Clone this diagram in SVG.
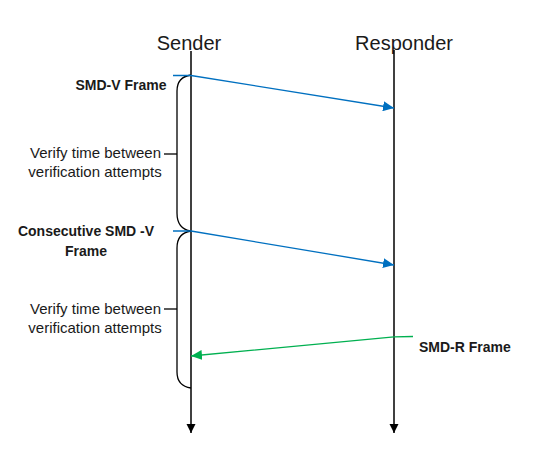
<svg xmlns="http://www.w3.org/2000/svg" width="550" height="453" viewBox="0 0 550 453">
<style>
  .title{font-family:"Liberation Sans",Arial,sans-serif;font-size:20px;fill:#1a1a1a}
  .lbl{font-family:"Liberation Sans",Arial,sans-serif;font-size:14px;font-weight:bold;fill:#1a1a1a}
  .note{font-family:"Liberation Sans",Arial,sans-serif;font-size:15px;fill:#1a1a1a}
  .life{stroke:#000;stroke-width:1.5;fill:none}
  .brace{stroke:#000;stroke-width:1.3;fill:none}
  .blue{stroke:#0070C0;stroke-width:1.3;fill:none}
  .green{stroke:#00B050;stroke-width:1.3;fill:none}
</style>
<defs>
  <marker id="ab" markerUnits="userSpaceOnUse" markerWidth="12" markerHeight="10" refX="11" refY="5" orient="auto"><path d="M0,0 L11,5 L0,10 Z" fill="#0070C0"/></marker>
  <marker id="ag" markerUnits="userSpaceOnUse" markerWidth="12" markerHeight="10" refX="11" refY="5" orient="auto"><path d="M0,0 L11,5 L0,10 Z" fill="#00B050"/></marker>
  <marker id="ak" markerUnits="userSpaceOnUse" markerWidth="10" markerHeight="10" refX="9" refY="4.5" orient="auto"><path d="M0,0 L9,4.5 L0,9 Z" fill="#000"/></marker>
</defs>
<rect width="550" height="453" fill="#fff"/>
<g id="sender">
  <text class="title" x="189" y="50" text-anchor="middle">Sender</text>
  <line class="life" x1="191" y1="51" x2="191" y2="433" marker-end="url(#ak)"/>
</g>
<g id="responder">
  <text class="title" x="404" y="50" text-anchor="middle">Responder</text>
  <line class="life" x1="394" y1="50" x2="394" y2="433" marker-end="url(#ak)"/>
</g>
<g id="brace1">
  <path class="brace" d="M191,75 Q177,77 177,91 L177,213 Q177,229 191,231"/>
  <line class="brace" x1="164" y1="154" x2="177" y2="154"/>
  <text class="note" x="161" y="158" text-anchor="end">Verify time between</text>
  <text class="note" x="95" y="177" text-anchor="middle">verification attempts</text>
</g>
<g id="brace2">
  <path class="brace" d="M191,231 Q177,233 177,248 L177,372 Q177,386 191,388"/>
  <line class="brace" x1="164" y1="309" x2="177" y2="309"/>
  <text class="note" x="161" y="314" text-anchor="end">Verify time between</text>
  <text class="note" x="95" y="333" text-anchor="middle">verification attempts</text>
</g>
<g id="labels">
  <text class="lbl" x="121" y="90" text-anchor="middle">SMD-V Frame</text>
  <text class="lbl" x="86" y="236" text-anchor="middle">Consecutive SMD -V</text>
  <text class="lbl" x="86" y="256" text-anchor="middle">Frame</text>
  <text class="lbl" x="419" y="352">SMD-R Frame</text>
</g>
<g id="connectors">
  <path class="blue" d="M173,75.5 L191,75.5 L394,108" marker-end="url(#ab)"/>
  <path class="blue" d="M173,231 L191,231 L394,265" marker-end="url(#ab)"/>
  <path class="green" d="M413,336.5 L394,336.8 L191,356" marker-end="url(#ag)"/>
</g>
</svg>
